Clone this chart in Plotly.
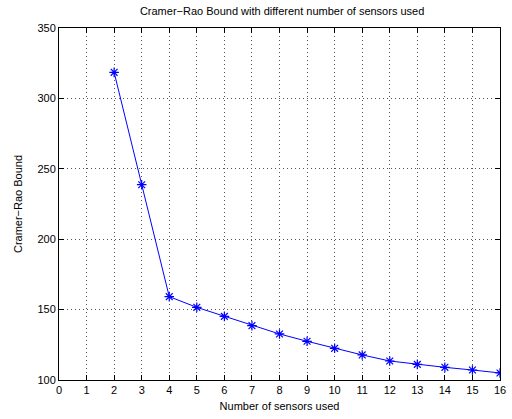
import plotly.graph_objects as go

sensors = [2, 3, 4, 5, 6, 7, 8, 9, 10, 11, 12, 13, 14, 15, 16]
crb = [318.5, 238.7, 159.2, 151.6, 145.2, 138.6, 132.7, 127.5, 122.5, 117.8, 113.5, 111.1, 109.0, 107.1, 105.0]
x_ticks = list(range(0, 17))
y_ticks = [100, 150, 200, 250, 300, 350]

fig = go.Figure()
fig.add_trace(go.Scatter(
    x=sensors, y=crb, mode="lines+markers",
    line=dict(color="#0000ff", width=1),
    marker=dict(symbol="asterisk-open", size=8, color="#0000ff",
                line=dict(color="#0000ff", width=1.2)),
    showlegend=False,
))

font = dict(family="Liberation Sans, Arial, sans-serif", size=11, color="black")
axis_common = dict(
    showline=True, linecolor="black", linewidth=1, mirror="ticks",
    ticks="inside", ticklen=5, tickcolor="black", tickwidth=1,
    showgrid=True, gridcolor="#555555", gridwidth=1, griddash="1px,3px",
    zeroline=False, tickfont=font, ticklabeloverflow="allow",
)
fig.update_layout(
    width=512, height=419,
    margin=dict(l=59, r=6, t=28, b=39),
    paper_bgcolor="white", plot_bgcolor="white",
    font=font,
    title=dict(text="Cramer\u2212Rao Bound with different number of sensors used",
               x=0.551, xanchor="center", y=0.973, yanchor="middle",
               font=dict(family="Liberation Sans, Arial, sans-serif", size=11, color="black")),
    xaxis=dict(range=[0, 16], tickvals=x_ticks,
               title=dict(text="Number of sensors used", standoff=7, font=font),
               **axis_common),
    yaxis=dict(range=[100, 350], tickvals=y_ticks,
               title=dict(text="Cramer\u2212Rao Bound", standoff=12, font=font),
               **axis_common),
)
fig.write_html("out.html")
